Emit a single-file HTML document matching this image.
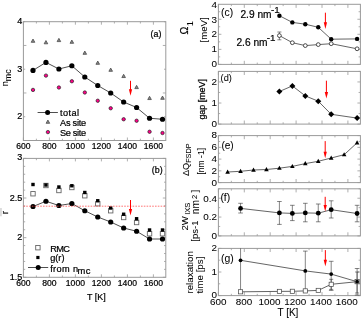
<!DOCTYPE html>
<html><head><meta charset="utf-8"><style>
html,body{margin:0;padding:0;background:#fff;width:362px;height:320px;overflow:hidden;}
svg{display:block;will-change:transform;}
text{font-family:"Liberation Sans",sans-serif;fill:#000;stroke:#000;stroke-width:0.22px;}
.rc text{stroke-width:0.06px;}
</style></head><body>
<svg width="362" height="320" viewBox="0 0 362 320">
<rect x="23.40" y="21.70" width="142.40" height="118.80" fill="none" stroke="#9a9a9a" stroke-width="1"/>
<line x1="23.40" y1="140.50" x2="23.40" y2="137.50" stroke="#9a9a9a" stroke-width="0.8" />
<line x1="23.40" y1="21.70" x2="23.40" y2="24.70" stroke="#9a9a9a" stroke-width="0.8" />
<line x1="36.40" y1="140.50" x2="36.40" y2="138.70" stroke="#9a9a9a" stroke-width="0.8" />
<line x1="36.40" y1="21.70" x2="36.40" y2="23.50" stroke="#9a9a9a" stroke-width="0.8" />
<line x1="49.40" y1="140.50" x2="49.40" y2="137.50" stroke="#9a9a9a" stroke-width="0.8" />
<line x1="49.40" y1="21.70" x2="49.40" y2="24.70" stroke="#9a9a9a" stroke-width="0.8" />
<line x1="62.40" y1="140.50" x2="62.40" y2="138.70" stroke="#9a9a9a" stroke-width="0.8" />
<line x1="62.40" y1="21.70" x2="62.40" y2="23.50" stroke="#9a9a9a" stroke-width="0.8" />
<line x1="75.40" y1="140.50" x2="75.40" y2="137.50" stroke="#9a9a9a" stroke-width="0.8" />
<line x1="75.40" y1="21.70" x2="75.40" y2="24.70" stroke="#9a9a9a" stroke-width="0.8" />
<line x1="88.40" y1="140.50" x2="88.40" y2="138.70" stroke="#9a9a9a" stroke-width="0.8" />
<line x1="88.40" y1="21.70" x2="88.40" y2="23.50" stroke="#9a9a9a" stroke-width="0.8" />
<line x1="101.40" y1="140.50" x2="101.40" y2="137.50" stroke="#9a9a9a" stroke-width="0.8" />
<line x1="101.40" y1="21.70" x2="101.40" y2="24.70" stroke="#9a9a9a" stroke-width="0.8" />
<line x1="114.40" y1="140.50" x2="114.40" y2="138.70" stroke="#9a9a9a" stroke-width="0.8" />
<line x1="114.40" y1="21.70" x2="114.40" y2="23.50" stroke="#9a9a9a" stroke-width="0.8" />
<line x1="127.40" y1="140.50" x2="127.40" y2="137.50" stroke="#9a9a9a" stroke-width="0.8" />
<line x1="127.40" y1="21.70" x2="127.40" y2="24.70" stroke="#9a9a9a" stroke-width="0.8" />
<line x1="140.40" y1="140.50" x2="140.40" y2="138.70" stroke="#9a9a9a" stroke-width="0.8" />
<line x1="140.40" y1="21.70" x2="140.40" y2="23.50" stroke="#9a9a9a" stroke-width="0.8" />
<line x1="153.40" y1="140.50" x2="153.40" y2="137.50" stroke="#9a9a9a" stroke-width="0.8" />
<line x1="153.40" y1="21.70" x2="153.40" y2="24.70" stroke="#9a9a9a" stroke-width="0.8" />
<line x1="23.40" y1="140.50" x2="26.40" y2="140.50" stroke="#9a9a9a" stroke-width="0.8" />
<line x1="165.80" y1="140.50" x2="162.80" y2="140.50" stroke="#9a9a9a" stroke-width="0.8" />
<line x1="23.40" y1="116.74" x2="25.20" y2="116.74" stroke="#9a9a9a" stroke-width="0.8" />
<line x1="165.80" y1="116.74" x2="164.00" y2="116.74" stroke="#9a9a9a" stroke-width="0.8" />
<line x1="23.40" y1="92.98" x2="26.40" y2="92.98" stroke="#9a9a9a" stroke-width="0.8" />
<line x1="165.80" y1="92.98" x2="162.80" y2="92.98" stroke="#9a9a9a" stroke-width="0.8" />
<line x1="23.40" y1="69.22" x2="25.20" y2="69.22" stroke="#9a9a9a" stroke-width="0.8" />
<line x1="165.80" y1="69.22" x2="164.00" y2="69.22" stroke="#9a9a9a" stroke-width="0.8" />
<line x1="23.40" y1="45.46" x2="26.40" y2="45.46" stroke="#9a9a9a" stroke-width="0.8" />
<line x1="165.80" y1="45.46" x2="162.80" y2="45.46" stroke="#9a9a9a" stroke-width="0.8" />
<line x1="23.40" y1="21.70" x2="25.20" y2="21.70" stroke="#9a9a9a" stroke-width="0.8" />
<line x1="165.80" y1="21.70" x2="164.00" y2="21.70" stroke="#9a9a9a" stroke-width="0.8" />
<text x="22.30" y="24.27" font-size="9.0" text-anchor="end" >4</text>
<text x="22.30" y="72.42" font-size="9.0" text-anchor="end" >3</text>
<text x="22.30" y="119.22" font-size="9.0" text-anchor="end" >2</text>
<text x="23.40" y="149.40" font-size="8.6" text-anchor="middle" >600</text>
<text x="49.40" y="149.40" font-size="8.6" text-anchor="middle" >800</text>
<text x="75.40" y="149.40" font-size="8.6" text-anchor="middle" >1000</text>
<text x="101.40" y="149.40" font-size="8.6" text-anchor="middle" >1200</text>
<text x="127.40" y="149.40" font-size="8.6" text-anchor="middle" >1400</text>
<text x="153.40" y="149.40" font-size="8.6" text-anchor="middle" >1600</text>
<text x="150.60" y="36.90" font-size="8.9" text-anchor="start" >(a)</text>
<polyline points="33.00,70.40 45.95,62.40 58.90,69.00 71.85,65.75 84.80,77.00 97.75,85.50 110.70,93.00 123.65,102.00 136.60,107.50 149.55,118.25 162.50,119.25" fill="none" stroke="#222" stroke-width="0.8"/>
<circle cx="33.00" cy="70.40" r="2.6" fill="#000" stroke="none" stroke-width="0.6"/>
<circle cx="45.95" cy="62.40" r="2.6" fill="#000" stroke="none" stroke-width="0.6"/>
<circle cx="58.90" cy="69.00" r="2.6" fill="#000" stroke="none" stroke-width="0.6"/>
<circle cx="71.85" cy="65.75" r="2.6" fill="#000" stroke="none" stroke-width="0.6"/>
<circle cx="84.80" cy="77.00" r="2.6" fill="#000" stroke="none" stroke-width="0.6"/>
<circle cx="97.75" cy="85.50" r="2.6" fill="#000" stroke="none" stroke-width="0.6"/>
<circle cx="110.70" cy="93.00" r="2.6" fill="#000" stroke="none" stroke-width="0.6"/>
<circle cx="123.65" cy="102.00" r="2.6" fill="#000" stroke="none" stroke-width="0.6"/>
<circle cx="136.60" cy="107.50" r="2.6" fill="#000" stroke="none" stroke-width="0.6"/>
<circle cx="149.55" cy="118.25" r="2.6" fill="#000" stroke="none" stroke-width="0.6"/>
<circle cx="162.50" cy="119.25" r="2.6" fill="#000" stroke="none" stroke-width="0.6"/>
<polygon points="33.00,39.06 34.80,42.30 31.20,42.30" fill="#8a8a8a" stroke="#4a4a4a" stroke-width="0.8"/>
<polygon points="45.95,40.56 47.75,43.80 44.15,43.80" fill="#8a8a8a" stroke="#4a4a4a" stroke-width="0.8"/>
<polygon points="58.90,38.36 60.70,41.60 57.10,41.60" fill="#8a8a8a" stroke="#4a4a4a" stroke-width="0.8"/>
<polygon points="71.85,40.06 73.65,43.30 70.05,43.30" fill="#8a8a8a" stroke="#4a4a4a" stroke-width="0.8"/>
<polygon points="84.80,51.06 86.60,54.30 83.00,54.30" fill="#8a8a8a" stroke="#4a4a4a" stroke-width="0.8"/>
<polygon points="97.75,61.06 99.55,64.30 95.95,64.30" fill="#8a8a8a" stroke="#4a4a4a" stroke-width="0.8"/>
<polygon points="110.70,68.06 112.50,71.30 108.90,71.30" fill="#8a8a8a" stroke="#4a4a4a" stroke-width="0.8"/>
<polygon points="123.65,74.31 125.45,77.55 121.85,77.55" fill="#8a8a8a" stroke="#4a4a4a" stroke-width="0.8"/>
<polygon points="136.60,85.36 138.40,88.60 134.80,88.60" fill="#8a8a8a" stroke="#4a4a4a" stroke-width="0.8"/>
<polygon points="149.55,96.31 151.35,99.55 147.75,99.55" fill="#8a8a8a" stroke="#4a4a4a" stroke-width="0.8"/>
<polygon points="162.50,96.06 164.30,99.30 160.70,99.30" fill="#8a8a8a" stroke="#4a4a4a" stroke-width="0.8"/>
<circle cx="33.00" cy="89.90" r="1.7" fill="#ff0088" stroke="#222" stroke-width="0.7"/>
<circle cx="45.95" cy="75.60" r="1.7" fill="#ff0088" stroke="#222" stroke-width="0.7"/>
<circle cx="58.90" cy="87.50" r="1.7" fill="#ff0088" stroke="#222" stroke-width="0.7"/>
<circle cx="71.85" cy="81.25" r="1.7" fill="#ff0088" stroke="#222" stroke-width="0.7"/>
<circle cx="84.80" cy="92.50" r="1.7" fill="#ff0088" stroke="#222" stroke-width="0.7"/>
<circle cx="97.75" cy="100.75" r="1.7" fill="#ff0088" stroke="#222" stroke-width="0.7"/>
<circle cx="110.70" cy="108.25" r="1.7" fill="#ff0088" stroke="#222" stroke-width="0.7"/>
<circle cx="123.65" cy="119.25" r="1.7" fill="#ff0088" stroke="#222" stroke-width="0.7"/>
<circle cx="136.60" cy="120.75" r="1.7" fill="#ff0088" stroke="#222" stroke-width="0.7"/>
<circle cx="149.55" cy="131.75" r="1.7" fill="#ff0088" stroke="#222" stroke-width="0.7"/>
<circle cx="162.50" cy="133.00" r="1.7" fill="#ff0088" stroke="#222" stroke-width="0.7"/>
<line x1="130.50" y1="80.80" x2="130.50" y2="90.80" stroke="#ff0000" stroke-width="1" />
<polygon points="128.85,89.20 132.15,89.20 130.50,95.80" fill="#ff0000"/>
<line x1="37.60" y1="112.50" x2="57.90" y2="112.50" stroke="#222" stroke-width="0.8" />
<circle cx="47.60" cy="112.40" r="2.5" fill="#000" stroke="none" stroke-width="0.6"/>
<polygon points="47.90,120.06 49.70,123.30 46.10,123.30" fill="#8a8a8a" stroke="#4a4a4a" stroke-width="0.8"/>
<circle cx="47.90" cy="132.10" r="1.7" fill="#ff0088" stroke="#222" stroke-width="0.7"/>
<text x="60.00" y="115.60" font-size="9.2" text-anchor="start" textLength="19.0">total</text>
<text x="60.00" y="125.90" font-size="9.2" text-anchor="start" textLength="26.2">As site</text>
<text x="60.00" y="135.60" font-size="9.2" text-anchor="start" textLength="26.2">Se site</text>
<text transform="translate(7.80,86.30) rotate(-90)" font-size="9.2" style="stroke-width:0.05px">n<tspan font-size="9" dy="3.1">mc</tspan></text>
<rect x="23.40" y="158.40" width="142.40" height="118.90" fill="none" stroke="#9a9a9a" stroke-width="1"/>
<line x1="23.40" y1="277.30" x2="23.40" y2="274.30" stroke="#9a9a9a" stroke-width="0.8" />
<line x1="23.40" y1="158.40" x2="23.40" y2="161.40" stroke="#9a9a9a" stroke-width="0.8" />
<line x1="36.40" y1="277.30" x2="36.40" y2="275.50" stroke="#9a9a9a" stroke-width="0.8" />
<line x1="36.40" y1="158.40" x2="36.40" y2="160.20" stroke="#9a9a9a" stroke-width="0.8" />
<line x1="49.40" y1="277.30" x2="49.40" y2="274.30" stroke="#9a9a9a" stroke-width="0.8" />
<line x1="49.40" y1="158.40" x2="49.40" y2="161.40" stroke="#9a9a9a" stroke-width="0.8" />
<line x1="62.40" y1="277.30" x2="62.40" y2="275.50" stroke="#9a9a9a" stroke-width="0.8" />
<line x1="62.40" y1="158.40" x2="62.40" y2="160.20" stroke="#9a9a9a" stroke-width="0.8" />
<line x1="75.40" y1="277.30" x2="75.40" y2="274.30" stroke="#9a9a9a" stroke-width="0.8" />
<line x1="75.40" y1="158.40" x2="75.40" y2="161.40" stroke="#9a9a9a" stroke-width="0.8" />
<line x1="88.40" y1="277.30" x2="88.40" y2="275.50" stroke="#9a9a9a" stroke-width="0.8" />
<line x1="88.40" y1="158.40" x2="88.40" y2="160.20" stroke="#9a9a9a" stroke-width="0.8" />
<line x1="101.40" y1="277.30" x2="101.40" y2="274.30" stroke="#9a9a9a" stroke-width="0.8" />
<line x1="101.40" y1="158.40" x2="101.40" y2="161.40" stroke="#9a9a9a" stroke-width="0.8" />
<line x1="114.40" y1="277.30" x2="114.40" y2="275.50" stroke="#9a9a9a" stroke-width="0.8" />
<line x1="114.40" y1="158.40" x2="114.40" y2="160.20" stroke="#9a9a9a" stroke-width="0.8" />
<line x1="127.40" y1="277.30" x2="127.40" y2="274.30" stroke="#9a9a9a" stroke-width="0.8" />
<line x1="127.40" y1="158.40" x2="127.40" y2="161.40" stroke="#9a9a9a" stroke-width="0.8" />
<line x1="140.40" y1="277.30" x2="140.40" y2="275.50" stroke="#9a9a9a" stroke-width="0.8" />
<line x1="140.40" y1="158.40" x2="140.40" y2="160.20" stroke="#9a9a9a" stroke-width="0.8" />
<line x1="153.40" y1="277.30" x2="153.40" y2="274.30" stroke="#9a9a9a" stroke-width="0.8" />
<line x1="153.40" y1="158.40" x2="153.40" y2="161.40" stroke="#9a9a9a" stroke-width="0.8" />
<line x1="23.40" y1="277.30" x2="26.40" y2="277.30" stroke="#9a9a9a" stroke-width="0.8" />
<line x1="165.80" y1="277.30" x2="162.80" y2="277.30" stroke="#9a9a9a" stroke-width="0.8" />
<line x1="23.40" y1="269.37" x2="25.20" y2="269.37" stroke="#9a9a9a" stroke-width="0.8" />
<line x1="165.80" y1="269.37" x2="164.00" y2="269.37" stroke="#9a9a9a" stroke-width="0.8" />
<line x1="23.40" y1="261.45" x2="25.20" y2="261.45" stroke="#9a9a9a" stroke-width="0.8" />
<line x1="165.80" y1="261.45" x2="164.00" y2="261.45" stroke="#9a9a9a" stroke-width="0.8" />
<line x1="23.40" y1="253.52" x2="25.20" y2="253.52" stroke="#9a9a9a" stroke-width="0.8" />
<line x1="165.80" y1="253.52" x2="164.00" y2="253.52" stroke="#9a9a9a" stroke-width="0.8" />
<line x1="23.40" y1="245.59" x2="25.20" y2="245.59" stroke="#9a9a9a" stroke-width="0.8" />
<line x1="165.80" y1="245.59" x2="164.00" y2="245.59" stroke="#9a9a9a" stroke-width="0.8" />
<line x1="23.40" y1="237.67" x2="26.40" y2="237.67" stroke="#9a9a9a" stroke-width="0.8" />
<line x1="165.80" y1="237.67" x2="162.80" y2="237.67" stroke="#9a9a9a" stroke-width="0.8" />
<line x1="23.40" y1="229.74" x2="25.20" y2="229.74" stroke="#9a9a9a" stroke-width="0.8" />
<line x1="165.80" y1="229.74" x2="164.00" y2="229.74" stroke="#9a9a9a" stroke-width="0.8" />
<line x1="23.40" y1="221.81" x2="25.20" y2="221.81" stroke="#9a9a9a" stroke-width="0.8" />
<line x1="165.80" y1="221.81" x2="164.00" y2="221.81" stroke="#9a9a9a" stroke-width="0.8" />
<line x1="23.40" y1="213.89" x2="25.20" y2="213.89" stroke="#9a9a9a" stroke-width="0.8" />
<line x1="165.80" y1="213.89" x2="164.00" y2="213.89" stroke="#9a9a9a" stroke-width="0.8" />
<line x1="23.40" y1="205.96" x2="25.20" y2="205.96" stroke="#9a9a9a" stroke-width="0.8" />
<line x1="165.80" y1="205.96" x2="164.00" y2="205.96" stroke="#9a9a9a" stroke-width="0.8" />
<line x1="23.40" y1="198.03" x2="26.40" y2="198.03" stroke="#9a9a9a" stroke-width="0.8" />
<line x1="165.80" y1="198.03" x2="162.80" y2="198.03" stroke="#9a9a9a" stroke-width="0.8" />
<line x1="23.40" y1="190.11" x2="25.20" y2="190.11" stroke="#9a9a9a" stroke-width="0.8" />
<line x1="165.80" y1="190.11" x2="164.00" y2="190.11" stroke="#9a9a9a" stroke-width="0.8" />
<line x1="23.40" y1="182.18" x2="25.20" y2="182.18" stroke="#9a9a9a" stroke-width="0.8" />
<line x1="165.80" y1="182.18" x2="164.00" y2="182.18" stroke="#9a9a9a" stroke-width="0.8" />
<line x1="23.40" y1="174.25" x2="25.20" y2="174.25" stroke="#9a9a9a" stroke-width="0.8" />
<line x1="165.80" y1="174.25" x2="164.00" y2="174.25" stroke="#9a9a9a" stroke-width="0.8" />
<line x1="23.40" y1="166.33" x2="25.20" y2="166.33" stroke="#9a9a9a" stroke-width="0.8" />
<line x1="165.80" y1="166.33" x2="164.00" y2="166.33" stroke="#9a9a9a" stroke-width="0.8" />
<line x1="23.40" y1="158.40" x2="26.40" y2="158.40" stroke="#9a9a9a" stroke-width="0.8" />
<line x1="165.80" y1="158.40" x2="162.80" y2="158.40" stroke="#9a9a9a" stroke-width="0.8" />
<text x="22.30" y="160.42" font-size="9.0" text-anchor="end" >3</text>
<text x="22.30" y="200.72" font-size="9.0" text-anchor="end" >2.5</text>
<text x="22.30" y="240.12" font-size="9.0" text-anchor="end" >2</text>
<text x="22.30" y="280.12" font-size="9.0" text-anchor="end" >1.5</text>
<text x="23.40" y="286.10" font-size="8.6" text-anchor="middle" >600</text>
<text x="49.40" y="286.10" font-size="8.6" text-anchor="middle" >800</text>
<text x="75.40" y="286.10" font-size="8.6" text-anchor="middle" >1000</text>
<text x="101.40" y="286.10" font-size="8.6" text-anchor="middle" >1200</text>
<text x="127.40" y="286.10" font-size="8.6" text-anchor="middle" >1400</text>
<text x="153.40" y="286.10" font-size="8.6" text-anchor="middle" >1600</text>
<text x="151.80" y="172.90" font-size="8.9" text-anchor="start" >(b)</text>
<polyline points="33.00,206.50 45.95,201.25 58.90,205.50 71.85,203.50 84.80,210.75 97.75,217.00 110.70,222.00 123.65,228.00 136.60,231.25 149.55,239.00 162.50,239.00" fill="none" stroke="#222" stroke-width="0.8"/>
<rect x="30.80" y="191.55" width="4.4" height="4.4" fill="#fff" stroke="#666" stroke-width="0.9"/>
<rect x="43.75" y="183.30" width="4.4" height="4.4" fill="#fff" stroke="#666" stroke-width="0.9"/>
<rect x="56.70" y="188.30" width="4.4" height="4.4" fill="#fff" stroke="#666" stroke-width="0.9"/>
<rect x="69.65" y="185.30" width="4.4" height="4.4" fill="#fff" stroke="#666" stroke-width="0.9"/>
<rect x="82.60" y="193.55" width="4.4" height="4.4" fill="#fff" stroke="#666" stroke-width="0.9"/>
<rect x="95.55" y="201.55" width="4.4" height="4.4" fill="#fff" stroke="#666" stroke-width="0.9"/>
<rect x="108.50" y="208.55" width="4.4" height="4.4" fill="#fff" stroke="#666" stroke-width="0.9"/>
<rect x="121.45" y="215.30" width="4.4" height="4.4" fill="#fff" stroke="#666" stroke-width="0.9"/>
<rect x="134.40" y="220.30" width="4.4" height="4.4" fill="#fff" stroke="#666" stroke-width="0.9"/>
<rect x="147.35" y="231.55" width="4.4" height="4.4" fill="#fff" stroke="#666" stroke-width="0.9"/>
<rect x="160.30" y="231.55" width="4.4" height="4.4" fill="#fff" stroke="#666" stroke-width="0.9"/>
<rect x="31.30" y="182.80" width="3.4" height="3.4" fill="#000" stroke="none" stroke-width="0.7"/>
<rect x="44.25" y="183.30" width="3.4" height="3.4" fill="#000" stroke="none" stroke-width="0.7"/>
<rect x="57.20" y="185.30" width="3.4" height="3.4" fill="#000" stroke="none" stroke-width="0.7"/>
<rect x="70.15" y="184.05" width="3.4" height="3.4" fill="#000" stroke="none" stroke-width="0.7"/>
<rect x="83.10" y="190.80" width="3.4" height="3.4" fill="#000" stroke="none" stroke-width="0.7"/>
<rect x="96.05" y="199.05" width="3.4" height="3.4" fill="#000" stroke="none" stroke-width="0.7"/>
<rect x="109.00" y="206.30" width="3.4" height="3.4" fill="#000" stroke="none" stroke-width="0.7"/>
<rect x="121.95" y="212.55" width="3.4" height="3.4" fill="#000" stroke="none" stroke-width="0.7"/>
<rect x="134.90" y="217.05" width="3.4" height="3.4" fill="#000" stroke="none" stroke-width="0.7"/>
<rect x="147.85" y="228.30" width="3.4" height="3.4" fill="#000" stroke="none" stroke-width="0.7"/>
<rect x="160.80" y="228.30" width="3.4" height="3.4" fill="#000" stroke="none" stroke-width="0.7"/>
<circle cx="33.00" cy="206.50" r="2.6" fill="#000" stroke="none" stroke-width="0.6"/>
<circle cx="45.95" cy="201.25" r="2.6" fill="#000" stroke="none" stroke-width="0.6"/>
<circle cx="58.90" cy="205.50" r="2.6" fill="#000" stroke="none" stroke-width="0.6"/>
<circle cx="71.85" cy="203.50" r="2.6" fill="#000" stroke="none" stroke-width="0.6"/>
<circle cx="84.80" cy="210.75" r="2.6" fill="#000" stroke="none" stroke-width="0.6"/>
<circle cx="97.75" cy="217.00" r="2.6" fill="#000" stroke="none" stroke-width="0.6"/>
<circle cx="110.70" cy="222.00" r="2.6" fill="#000" stroke="none" stroke-width="0.6"/>
<circle cx="123.65" cy="228.00" r="2.6" fill="#000" stroke="none" stroke-width="0.6"/>
<circle cx="136.60" cy="231.25" r="2.6" fill="#000" stroke="none" stroke-width="0.6"/>
<circle cx="149.55" cy="239.00" r="2.6" fill="#000" stroke="none" stroke-width="0.6"/>
<circle cx="162.50" cy="239.00" r="2.6" fill="#000" stroke="none" stroke-width="0.6"/>
<line x1="23.40" y1="206.20" x2="165.80" y2="206.20" stroke="#ff4848" stroke-width="0.75" stroke-dasharray="1.6,1.2"/>
<line x1="130.50" y1="200.00" x2="130.50" y2="210.50" stroke="#ff0000" stroke-width="1" />
<polygon points="128.85,208.90 132.15,208.90 130.50,215.50" fill="#ff0000"/>
<rect x="35.70" y="245.50" width="4.4" height="4.4" fill="#fff" stroke="#666" stroke-width="0.9"/>
<rect x="36.30" y="255.90" width="3.2" height="3.2" fill="#000" stroke="none" stroke-width="0.7"/>
<line x1="28.00" y1="267.50" x2="48.20" y2="267.50" stroke="#222" stroke-width="0.8" />
<circle cx="38.20" cy="267.40" r="2.5" fill="#000" stroke="none" stroke-width="0.6"/>
<text x="50.20" y="251.60" font-size="9.2" text-anchor="start" textLength="19.8">RMC</text>
<text x="50.20" y="261.20" font-size="9.2" text-anchor="start" >g(r)</text>
<text x="50.20" y="271.60" font-size="9.2" text-anchor="start" textLength="27.8">from n</text>
<text x="77.50" y="274.20" font-size="9.4" text-anchor="start" textLength="13.0">mc</text>
<rect x="0" y="208" width="1.9" height="8.3" fill="#dcdcdc"/>
<text transform="translate(8.10,214.20) rotate(-90)" font-size="9.6" >r</text>
<text x="96.40" y="300.00" font-size="8.9" text-anchor="middle" >T [K]</text>
<g class="rc">
<rect x="218.40" y="4.30" width="142.00" height="60.10" fill="none" stroke="#9a9a9a" stroke-width="1"/>
<line x1="218.40" y1="64.40" x2="218.40" y2="60.80" stroke="#9a9a9a" stroke-width="0.8" />
<line x1="218.40" y1="4.30" x2="218.40" y2="7.90" stroke="#9a9a9a" stroke-width="0.8" />
<line x1="231.35" y1="64.40" x2="231.35" y2="62.60" stroke="#9a9a9a" stroke-width="0.8" />
<line x1="231.35" y1="4.30" x2="231.35" y2="6.10" stroke="#9a9a9a" stroke-width="0.8" />
<line x1="244.30" y1="64.40" x2="244.30" y2="60.80" stroke="#9a9a9a" stroke-width="0.8" />
<line x1="244.30" y1="4.30" x2="244.30" y2="7.90" stroke="#9a9a9a" stroke-width="0.8" />
<line x1="257.25" y1="64.40" x2="257.25" y2="62.60" stroke="#9a9a9a" stroke-width="0.8" />
<line x1="257.25" y1="4.30" x2="257.25" y2="6.10" stroke="#9a9a9a" stroke-width="0.8" />
<line x1="270.20" y1="64.40" x2="270.20" y2="60.80" stroke="#9a9a9a" stroke-width="0.8" />
<line x1="270.20" y1="4.30" x2="270.20" y2="7.90" stroke="#9a9a9a" stroke-width="0.8" />
<line x1="283.15" y1="64.40" x2="283.15" y2="62.60" stroke="#9a9a9a" stroke-width="0.8" />
<line x1="283.15" y1="4.30" x2="283.15" y2="6.10" stroke="#9a9a9a" stroke-width="0.8" />
<line x1="296.10" y1="64.40" x2="296.10" y2="60.80" stroke="#9a9a9a" stroke-width="0.8" />
<line x1="296.10" y1="4.30" x2="296.10" y2="7.90" stroke="#9a9a9a" stroke-width="0.8" />
<line x1="309.05" y1="64.40" x2="309.05" y2="62.60" stroke="#9a9a9a" stroke-width="0.8" />
<line x1="309.05" y1="4.30" x2="309.05" y2="6.10" stroke="#9a9a9a" stroke-width="0.8" />
<line x1="322.00" y1="64.40" x2="322.00" y2="60.80" stroke="#9a9a9a" stroke-width="0.8" />
<line x1="322.00" y1="4.30" x2="322.00" y2="7.90" stroke="#9a9a9a" stroke-width="0.8" />
<line x1="334.95" y1="64.40" x2="334.95" y2="62.60" stroke="#9a9a9a" stroke-width="0.8" />
<line x1="334.95" y1="4.30" x2="334.95" y2="6.10" stroke="#9a9a9a" stroke-width="0.8" />
<line x1="347.90" y1="64.40" x2="347.90" y2="60.80" stroke="#9a9a9a" stroke-width="0.8" />
<line x1="347.90" y1="4.30" x2="347.90" y2="7.90" stroke="#9a9a9a" stroke-width="0.8" />
<line x1="218.40" y1="64.40" x2="221.40" y2="64.40" stroke="#9a9a9a" stroke-width="0.8" />
<line x1="360.40" y1="64.40" x2="357.40" y2="64.40" stroke="#9a9a9a" stroke-width="0.8" />
<line x1="218.40" y1="56.88" x2="220.20" y2="56.88" stroke="#9a9a9a" stroke-width="0.8" />
<line x1="360.40" y1="56.88" x2="358.60" y2="56.88" stroke="#9a9a9a" stroke-width="0.8" />
<line x1="218.40" y1="49.35" x2="221.40" y2="49.35" stroke="#9a9a9a" stroke-width="0.8" />
<line x1="360.40" y1="49.35" x2="357.40" y2="49.35" stroke="#9a9a9a" stroke-width="0.8" />
<line x1="218.40" y1="41.83" x2="220.20" y2="41.83" stroke="#9a9a9a" stroke-width="0.8" />
<line x1="360.40" y1="41.83" x2="358.60" y2="41.83" stroke="#9a9a9a" stroke-width="0.8" />
<line x1="218.40" y1="34.30" x2="221.40" y2="34.30" stroke="#9a9a9a" stroke-width="0.8" />
<line x1="360.40" y1="34.30" x2="357.40" y2="34.30" stroke="#9a9a9a" stroke-width="0.8" />
<line x1="218.40" y1="26.78" x2="220.20" y2="26.78" stroke="#9a9a9a" stroke-width="0.8" />
<line x1="360.40" y1="26.78" x2="358.60" y2="26.78" stroke="#9a9a9a" stroke-width="0.8" />
<line x1="218.40" y1="19.25" x2="221.40" y2="19.25" stroke="#9a9a9a" stroke-width="0.8" />
<line x1="360.40" y1="19.25" x2="357.40" y2="19.25" stroke="#9a9a9a" stroke-width="0.8" />
<line x1="218.40" y1="11.73" x2="220.20" y2="11.73" stroke="#9a9a9a" stroke-width="0.8" />
<line x1="360.40" y1="11.73" x2="358.60" y2="11.73" stroke="#9a9a9a" stroke-width="0.8" />
<text x="217.00" y="7.85" font-size="9.9" text-anchor="end" >4</text>
<text x="217.00" y="22.95" font-size="9.9" text-anchor="end" >3</text>
<text x="217.00" y="37.25" font-size="9.9" text-anchor="end" >2</text>
<text x="217.00" y="51.80" font-size="9.9" text-anchor="end" >1</text>
<text x="217.00" y="67.00" font-size="9.9" text-anchor="end" >0</text>
<text x="221.10" y="15.60" font-size="10.3" text-anchor="start" >(c)</text>
<polyline points="279.40,15.70 292.35,22.40 305.30,24.20 318.25,27.30 331.20,39.20 357.10,38.90" fill="none" stroke="#222" stroke-width="0.7"/>
<polyline points="279.40,35.60 292.35,42.70 305.30,45.60 318.25,44.60 331.20,43.70 357.10,48.80" fill="none" stroke="#222" stroke-width="0.7"/>
<line x1="279.40" y1="32.00" x2="279.40" y2="39.80" stroke="#333" stroke-width="0.6" />
<line x1="277.40" y1="32.00" x2="281.40" y2="32.00" stroke="#333" stroke-width="0.6" />
<line x1="277.40" y1="39.80" x2="281.40" y2="39.80" stroke="#333" stroke-width="0.6" />
<circle cx="279.40" cy="15.70" r="2.2" fill="#000" stroke="none" stroke-width="0.6"/>
<circle cx="292.35" cy="22.40" r="2.2" fill="#000" stroke="none" stroke-width="0.6"/>
<circle cx="305.30" cy="24.20" r="2.2" fill="#000" stroke="none" stroke-width="0.6"/>
<circle cx="318.25" cy="27.30" r="2.2" fill="#000" stroke="none" stroke-width="0.6"/>
<circle cx="331.20" cy="39.20" r="2.2" fill="#000" stroke="none" stroke-width="0.6"/>
<circle cx="357.10" cy="38.90" r="2.2" fill="#000" stroke="none" stroke-width="0.6"/>
<circle cx="279.40" cy="35.60" r="1.9" fill="#fff" stroke="#222" stroke-width="0.8"/>
<circle cx="292.35" cy="42.70" r="1.9" fill="#fff" stroke="#222" stroke-width="0.8"/>
<circle cx="305.30" cy="45.60" r="1.9" fill="#fff" stroke="#222" stroke-width="0.8"/>
<circle cx="318.25" cy="44.60" r="1.9" fill="#fff" stroke="#222" stroke-width="0.8"/>
<circle cx="331.20" cy="43.70" r="1.9" fill="#fff" stroke="#222" stroke-width="0.8"/>
<circle cx="357.10" cy="48.80" r="1.9" fill="#fff" stroke="#222" stroke-width="0.8"/>
<line x1="325.40" y1="12.70" x2="325.40" y2="23.90" stroke="#ff0000" stroke-width="1" />
<polygon points="323.75,22.30 327.05,22.30 325.40,28.90" fill="#ff0000"/>
<text x="240.4" y="18.4" font-size="10.2" style="stroke-width:0.2px">2.9 nm<tspan font-size="9.8" dy="-5.0" dx="-0.6">-1</tspan></text>
<text x="236.4" y="45.9" font-size="10.2" style="stroke-width:0.2px">2.6 nm<tspan font-size="9.8" dy="-5.0" dx="-0.8">-1</tspan></text>
<text transform="translate(188.30,34.40) rotate(-90)" font-size="10.5" style="stroke-width:0.2px">&#937;</text>
<text transform="translate(193.20,26.30) rotate(-90)" font-size="9.4" >1</text>
<text transform="translate(207.30,42.40) rotate(-90)" font-size="9.6" >[meV]</text>
<rect x="218.40" y="71.40" width="142.00" height="52.70" fill="none" stroke="#9a9a9a" stroke-width="1"/>
<line x1="218.40" y1="124.10" x2="218.40" y2="120.50" stroke="#9a9a9a" stroke-width="0.8" />
<line x1="218.40" y1="71.40" x2="218.40" y2="75.00" stroke="#9a9a9a" stroke-width="0.8" />
<line x1="231.35" y1="124.10" x2="231.35" y2="122.30" stroke="#9a9a9a" stroke-width="0.8" />
<line x1="231.35" y1="71.40" x2="231.35" y2="73.20" stroke="#9a9a9a" stroke-width="0.8" />
<line x1="244.30" y1="124.10" x2="244.30" y2="120.50" stroke="#9a9a9a" stroke-width="0.8" />
<line x1="244.30" y1="71.40" x2="244.30" y2="75.00" stroke="#9a9a9a" stroke-width="0.8" />
<line x1="257.25" y1="124.10" x2="257.25" y2="122.30" stroke="#9a9a9a" stroke-width="0.8" />
<line x1="257.25" y1="71.40" x2="257.25" y2="73.20" stroke="#9a9a9a" stroke-width="0.8" />
<line x1="270.20" y1="124.10" x2="270.20" y2="120.50" stroke="#9a9a9a" stroke-width="0.8" />
<line x1="270.20" y1="71.40" x2="270.20" y2="75.00" stroke="#9a9a9a" stroke-width="0.8" />
<line x1="283.15" y1="124.10" x2="283.15" y2="122.30" stroke="#9a9a9a" stroke-width="0.8" />
<line x1="283.15" y1="71.40" x2="283.15" y2="73.20" stroke="#9a9a9a" stroke-width="0.8" />
<line x1="296.10" y1="124.10" x2="296.10" y2="120.50" stroke="#9a9a9a" stroke-width="0.8" />
<line x1="296.10" y1="71.40" x2="296.10" y2="75.00" stroke="#9a9a9a" stroke-width="0.8" />
<line x1="309.05" y1="124.10" x2="309.05" y2="122.30" stroke="#9a9a9a" stroke-width="0.8" />
<line x1="309.05" y1="71.40" x2="309.05" y2="73.20" stroke="#9a9a9a" stroke-width="0.8" />
<line x1="322.00" y1="124.10" x2="322.00" y2="120.50" stroke="#9a9a9a" stroke-width="0.8" />
<line x1="322.00" y1="71.40" x2="322.00" y2="75.00" stroke="#9a9a9a" stroke-width="0.8" />
<line x1="334.95" y1="124.10" x2="334.95" y2="122.30" stroke="#9a9a9a" stroke-width="0.8" />
<line x1="334.95" y1="71.40" x2="334.95" y2="73.20" stroke="#9a9a9a" stroke-width="0.8" />
<line x1="347.90" y1="124.10" x2="347.90" y2="120.50" stroke="#9a9a9a" stroke-width="0.8" />
<line x1="347.90" y1="71.40" x2="347.90" y2="75.00" stroke="#9a9a9a" stroke-width="0.8" />
<line x1="218.40" y1="124.10" x2="221.40" y2="124.10" stroke="#9a9a9a" stroke-width="0.8" />
<line x1="360.40" y1="124.10" x2="357.40" y2="124.10" stroke="#9a9a9a" stroke-width="0.8" />
<line x1="218.40" y1="113.56" x2="220.20" y2="113.56" stroke="#9a9a9a" stroke-width="0.8" />
<line x1="360.40" y1="113.56" x2="358.60" y2="113.56" stroke="#9a9a9a" stroke-width="0.8" />
<line x1="218.40" y1="103.02" x2="221.40" y2="103.02" stroke="#9a9a9a" stroke-width="0.8" />
<line x1="360.40" y1="103.02" x2="357.40" y2="103.02" stroke="#9a9a9a" stroke-width="0.8" />
<line x1="218.40" y1="92.48" x2="220.20" y2="92.48" stroke="#9a9a9a" stroke-width="0.8" />
<line x1="360.40" y1="92.48" x2="358.60" y2="92.48" stroke="#9a9a9a" stroke-width="0.8" />
<line x1="218.40" y1="81.94" x2="221.40" y2="81.94" stroke="#9a9a9a" stroke-width="0.8" />
<line x1="360.40" y1="81.94" x2="357.40" y2="81.94" stroke="#9a9a9a" stroke-width="0.8" />
<line x1="218.40" y1="71.40" x2="220.20" y2="71.40" stroke="#9a9a9a" stroke-width="0.8" />
<line x1="360.40" y1="71.40" x2="358.60" y2="71.40" stroke="#9a9a9a" stroke-width="0.8" />
<text x="217.00" y="84.65" font-size="9.9" text-anchor="end" >2</text>
<text x="217.00" y="106.15" font-size="9.9" text-anchor="end" >1</text>
<text x="217.00" y="127.35" font-size="9.9" text-anchor="end" >0</text>
<text x="220.60" y="81.40" font-size="9.2" text-anchor="start" >(d)</text>
<polyline points="279.40,91.50 292.35,85.90 305.30,95.90 318.25,101.20 331.20,114.30 357.10,118.10" fill="none" stroke="#222" stroke-width="0.7"/>
<polygon points="279.40,88.50 282.40,91.50 279.40,94.50 276.40,91.50" fill="#000"/>
<polygon points="292.35,82.90 295.35,85.90 292.35,88.90 289.35,85.90" fill="#000"/>
<polygon points="305.30,92.90 308.30,95.90 305.30,98.90 302.30,95.90" fill="#000"/>
<polygon points="318.25,98.20 321.25,101.20 318.25,104.20 315.25,101.20" fill="#000"/>
<polygon points="331.20,111.30 334.20,114.30 331.20,117.30 328.20,114.30" fill="#000"/>
<polygon points="357.10,115.10 360.10,118.10 357.10,121.10 354.10,118.10" fill="#000"/>
<line x1="326.40" y1="80.70" x2="326.40" y2="93.60" stroke="#ff0000" stroke-width="1" />
<polygon points="324.75,92.00 328.05,92.00 326.40,98.60" fill="#ff0000"/>
<text transform="translate(204.70,119.60) rotate(-90)" font-size="8.9" style="stroke-width:0.25px">gap [meV]</text>
<rect x="218.40" y="135.60" width="142.00" height="47.00" fill="none" stroke="#9a9a9a" stroke-width="1"/>
<line x1="218.40" y1="182.60" x2="218.40" y2="179.00" stroke="#9a9a9a" stroke-width="0.8" />
<line x1="218.40" y1="135.60" x2="218.40" y2="139.20" stroke="#9a9a9a" stroke-width="0.8" />
<line x1="231.35" y1="182.60" x2="231.35" y2="180.80" stroke="#9a9a9a" stroke-width="0.8" />
<line x1="231.35" y1="135.60" x2="231.35" y2="137.40" stroke="#9a9a9a" stroke-width="0.8" />
<line x1="244.30" y1="182.60" x2="244.30" y2="179.00" stroke="#9a9a9a" stroke-width="0.8" />
<line x1="244.30" y1="135.60" x2="244.30" y2="139.20" stroke="#9a9a9a" stroke-width="0.8" />
<line x1="257.25" y1="182.60" x2="257.25" y2="180.80" stroke="#9a9a9a" stroke-width="0.8" />
<line x1="257.25" y1="135.60" x2="257.25" y2="137.40" stroke="#9a9a9a" stroke-width="0.8" />
<line x1="270.20" y1="182.60" x2="270.20" y2="179.00" stroke="#9a9a9a" stroke-width="0.8" />
<line x1="270.20" y1="135.60" x2="270.20" y2="139.20" stroke="#9a9a9a" stroke-width="0.8" />
<line x1="283.15" y1="182.60" x2="283.15" y2="180.80" stroke="#9a9a9a" stroke-width="0.8" />
<line x1="283.15" y1="135.60" x2="283.15" y2="137.40" stroke="#9a9a9a" stroke-width="0.8" />
<line x1="296.10" y1="182.60" x2="296.10" y2="179.00" stroke="#9a9a9a" stroke-width="0.8" />
<line x1="296.10" y1="135.60" x2="296.10" y2="139.20" stroke="#9a9a9a" stroke-width="0.8" />
<line x1="309.05" y1="182.60" x2="309.05" y2="180.80" stroke="#9a9a9a" stroke-width="0.8" />
<line x1="309.05" y1="135.60" x2="309.05" y2="137.40" stroke="#9a9a9a" stroke-width="0.8" />
<line x1="322.00" y1="182.60" x2="322.00" y2="179.00" stroke="#9a9a9a" stroke-width="0.8" />
<line x1="322.00" y1="135.60" x2="322.00" y2="139.20" stroke="#9a9a9a" stroke-width="0.8" />
<line x1="334.95" y1="182.60" x2="334.95" y2="180.80" stroke="#9a9a9a" stroke-width="0.8" />
<line x1="334.95" y1="135.60" x2="334.95" y2="137.40" stroke="#9a9a9a" stroke-width="0.8" />
<line x1="347.90" y1="182.60" x2="347.90" y2="179.00" stroke="#9a9a9a" stroke-width="0.8" />
<line x1="347.90" y1="135.60" x2="347.90" y2="139.20" stroke="#9a9a9a" stroke-width="0.8" />
<line x1="218.40" y1="182.60" x2="221.40" y2="182.60" stroke="#9a9a9a" stroke-width="0.8" />
<line x1="360.40" y1="182.60" x2="357.40" y2="182.60" stroke="#9a9a9a" stroke-width="0.8" />
<line x1="218.40" y1="176.72" x2="220.20" y2="176.72" stroke="#9a9a9a" stroke-width="0.8" />
<line x1="360.40" y1="176.72" x2="358.60" y2="176.72" stroke="#9a9a9a" stroke-width="0.8" />
<line x1="218.40" y1="170.85" x2="221.40" y2="170.85" stroke="#9a9a9a" stroke-width="0.8" />
<line x1="360.40" y1="170.85" x2="357.40" y2="170.85" stroke="#9a9a9a" stroke-width="0.8" />
<line x1="218.40" y1="164.97" x2="220.20" y2="164.97" stroke="#9a9a9a" stroke-width="0.8" />
<line x1="360.40" y1="164.97" x2="358.60" y2="164.97" stroke="#9a9a9a" stroke-width="0.8" />
<line x1="218.40" y1="159.10" x2="221.40" y2="159.10" stroke="#9a9a9a" stroke-width="0.8" />
<line x1="360.40" y1="159.10" x2="357.40" y2="159.10" stroke="#9a9a9a" stroke-width="0.8" />
<line x1="218.40" y1="153.22" x2="220.20" y2="153.22" stroke="#9a9a9a" stroke-width="0.8" />
<line x1="360.40" y1="153.22" x2="358.60" y2="153.22" stroke="#9a9a9a" stroke-width="0.8" />
<line x1="218.40" y1="147.35" x2="221.40" y2="147.35" stroke="#9a9a9a" stroke-width="0.8" />
<line x1="360.40" y1="147.35" x2="357.40" y2="147.35" stroke="#9a9a9a" stroke-width="0.8" />
<line x1="218.40" y1="141.47" x2="220.20" y2="141.47" stroke="#9a9a9a" stroke-width="0.8" />
<line x1="360.40" y1="141.47" x2="358.60" y2="141.47" stroke="#9a9a9a" stroke-width="0.8" />
<line x1="218.40" y1="135.60" x2="221.40" y2="135.60" stroke="#9a9a9a" stroke-width="0.8" />
<line x1="360.40" y1="135.60" x2="357.40" y2="135.60" stroke="#9a9a9a" stroke-width="0.8" />
<text x="217.00" y="138.45" font-size="9.9" text-anchor="end" >8</text>
<text x="217.00" y="150.05" font-size="9.9" text-anchor="end" >6</text>
<text x="217.00" y="162.10" font-size="9.9" text-anchor="end" >4</text>
<text x="217.00" y="174.30" font-size="9.9" text-anchor="end" >2</text>
<text x="217.00" y="185.95" font-size="9.9" text-anchor="end" >0</text>
<text x="221.40" y="148.80" font-size="10.1" text-anchor="start" >(e)</text>
<polyline points="227.60,172.00 240.55,171.30 253.50,170.00 266.45,169.50 279.40,168.20 292.35,166.40 305.30,163.60 318.25,161.30 331.20,158.00 344.15,154.70 357.10,142.80" fill="none" stroke="#222" stroke-width="0.7"/>
<polygon points="227.60,169.52 229.90,173.66 225.30,173.66" fill="#000" stroke="none" stroke-width="0.7"/>
<polygon points="240.55,168.82 242.85,172.96 238.25,172.96" fill="#000" stroke="none" stroke-width="0.7"/>
<polygon points="253.50,167.52 255.80,171.66 251.20,171.66" fill="#000" stroke="none" stroke-width="0.7"/>
<polygon points="266.45,167.02 268.75,171.16 264.15,171.16" fill="#000" stroke="none" stroke-width="0.7"/>
<polygon points="279.40,165.72 281.70,169.86 277.10,169.86" fill="#000" stroke="none" stroke-width="0.7"/>
<polygon points="292.35,163.92 294.65,168.06 290.05,168.06" fill="#000" stroke="none" stroke-width="0.7"/>
<polygon points="305.30,161.12 307.60,165.26 303.00,165.26" fill="#000" stroke="none" stroke-width="0.7"/>
<polygon points="318.25,158.82 320.55,162.96 315.95,162.96" fill="#000" stroke="none" stroke-width="0.7"/>
<polygon points="331.20,155.52 333.50,159.66 328.90,159.66" fill="#000" stroke="none" stroke-width="0.7"/>
<polygon points="344.15,152.22 346.45,156.36 341.85,156.36" fill="#000" stroke="none" stroke-width="0.7"/>
<polygon points="357.10,140.32 359.40,144.46 354.80,144.46" fill="#000" stroke="none" stroke-width="0.7"/>
<line x1="325.20" y1="141.10" x2="325.20" y2="153.30" stroke="#ff0000" stroke-width="1" />
<polygon points="323.55,151.70 326.85,151.70 325.20,158.30" fill="#ff0000"/>
<text transform="translate(188.70,176.00) rotate(-90)" font-size="9.1" >&#916;Q<tspan font-size="7.3" dy="2.4">FSDP</tspan></text>
<text transform="translate(203.60,174.60) rotate(-90)" font-size="8.6" >[nm -1]</text>
<rect x="218.40" y="188.80" width="142.00" height="47.10" fill="none" stroke="#9a9a9a" stroke-width="1"/>
<line x1="218.40" y1="235.90" x2="218.40" y2="232.30" stroke="#9a9a9a" stroke-width="0.8" />
<line x1="218.40" y1="188.80" x2="218.40" y2="192.40" stroke="#9a9a9a" stroke-width="0.8" />
<line x1="231.35" y1="235.90" x2="231.35" y2="234.10" stroke="#9a9a9a" stroke-width="0.8" />
<line x1="231.35" y1="188.80" x2="231.35" y2="190.60" stroke="#9a9a9a" stroke-width="0.8" />
<line x1="244.30" y1="235.90" x2="244.30" y2="232.30" stroke="#9a9a9a" stroke-width="0.8" />
<line x1="244.30" y1="188.80" x2="244.30" y2="192.40" stroke="#9a9a9a" stroke-width="0.8" />
<line x1="257.25" y1="235.90" x2="257.25" y2="234.10" stroke="#9a9a9a" stroke-width="0.8" />
<line x1="257.25" y1="188.80" x2="257.25" y2="190.60" stroke="#9a9a9a" stroke-width="0.8" />
<line x1="270.20" y1="235.90" x2="270.20" y2="232.30" stroke="#9a9a9a" stroke-width="0.8" />
<line x1="270.20" y1="188.80" x2="270.20" y2="192.40" stroke="#9a9a9a" stroke-width="0.8" />
<line x1="283.15" y1="235.90" x2="283.15" y2="234.10" stroke="#9a9a9a" stroke-width="0.8" />
<line x1="283.15" y1="188.80" x2="283.15" y2="190.60" stroke="#9a9a9a" stroke-width="0.8" />
<line x1="296.10" y1="235.90" x2="296.10" y2="232.30" stroke="#9a9a9a" stroke-width="0.8" />
<line x1="296.10" y1="188.80" x2="296.10" y2="192.40" stroke="#9a9a9a" stroke-width="0.8" />
<line x1="309.05" y1="235.90" x2="309.05" y2="234.10" stroke="#9a9a9a" stroke-width="0.8" />
<line x1="309.05" y1="188.80" x2="309.05" y2="190.60" stroke="#9a9a9a" stroke-width="0.8" />
<line x1="322.00" y1="235.90" x2="322.00" y2="232.30" stroke="#9a9a9a" stroke-width="0.8" />
<line x1="322.00" y1="188.80" x2="322.00" y2="192.40" stroke="#9a9a9a" stroke-width="0.8" />
<line x1="334.95" y1="235.90" x2="334.95" y2="234.10" stroke="#9a9a9a" stroke-width="0.8" />
<line x1="334.95" y1="188.80" x2="334.95" y2="190.60" stroke="#9a9a9a" stroke-width="0.8" />
<line x1="347.90" y1="235.90" x2="347.90" y2="232.30" stroke="#9a9a9a" stroke-width="0.8" />
<line x1="347.90" y1="188.80" x2="347.90" y2="192.40" stroke="#9a9a9a" stroke-width="0.8" />
<line x1="218.40" y1="235.90" x2="221.40" y2="235.90" stroke="#9a9a9a" stroke-width="0.8" />
<line x1="360.40" y1="235.90" x2="357.40" y2="235.90" stroke="#9a9a9a" stroke-width="0.8" />
<line x1="218.40" y1="226.48" x2="220.20" y2="226.48" stroke="#9a9a9a" stroke-width="0.8" />
<line x1="360.40" y1="226.48" x2="358.60" y2="226.48" stroke="#9a9a9a" stroke-width="0.8" />
<line x1="218.40" y1="217.06" x2="221.40" y2="217.06" stroke="#9a9a9a" stroke-width="0.8" />
<line x1="360.40" y1="217.06" x2="357.40" y2="217.06" stroke="#9a9a9a" stroke-width="0.8" />
<line x1="218.40" y1="207.64" x2="220.20" y2="207.64" stroke="#9a9a9a" stroke-width="0.8" />
<line x1="360.40" y1="207.64" x2="358.60" y2="207.64" stroke="#9a9a9a" stroke-width="0.8" />
<line x1="218.40" y1="198.22" x2="221.40" y2="198.22" stroke="#9a9a9a" stroke-width="0.8" />
<line x1="360.40" y1="198.22" x2="357.40" y2="198.22" stroke="#9a9a9a" stroke-width="0.8" />
<line x1="218.40" y1="188.80" x2="220.20" y2="188.80" stroke="#9a9a9a" stroke-width="0.8" />
<line x1="360.40" y1="188.80" x2="358.60" y2="188.80" stroke="#9a9a9a" stroke-width="0.8" />
<text x="217.00" y="201.65" font-size="9.9" text-anchor="end" >0.4</text>
<text x="217.00" y="220.15" font-size="9.9" text-anchor="end" >0.2</text>
<text x="217.00" y="239.45" font-size="9.9" text-anchor="end" >0</text>
<text x="220.40" y="200.70" font-size="10.4" text-anchor="start" >(f)</text>
<polyline points="240.55,208.40 279.40,212.90 292.35,213.40 305.30,212.90 318.25,213.20 331.20,209.70 357.10,213.50" fill="none" stroke="#222" stroke-width="0.7"/>
<line x1="240.55" y1="203.30" x2="240.55" y2="213.00" stroke="#333" stroke-width="0.6" />
<line x1="238.25" y1="203.30" x2="242.85" y2="203.30" stroke="#333" stroke-width="0.6" />
<line x1="238.25" y1="213.00" x2="242.85" y2="213.00" stroke="#333" stroke-width="0.6" />
<line x1="279.40" y1="201.50" x2="279.40" y2="224.40" stroke="#333" stroke-width="0.6" />
<line x1="277.10" y1="201.50" x2="281.70" y2="201.50" stroke="#333" stroke-width="0.6" />
<line x1="277.10" y1="224.40" x2="281.70" y2="224.40" stroke="#333" stroke-width="0.6" />
<line x1="292.35" y1="205.30" x2="292.35" y2="220.60" stroke="#333" stroke-width="0.6" />
<line x1="290.05" y1="205.30" x2="294.65" y2="205.30" stroke="#333" stroke-width="0.6" />
<line x1="290.05" y1="220.60" x2="294.65" y2="220.60" stroke="#333" stroke-width="0.6" />
<line x1="305.30" y1="203.30" x2="305.30" y2="221.80" stroke="#333" stroke-width="0.6" />
<line x1="303.00" y1="203.30" x2="307.60" y2="203.30" stroke="#333" stroke-width="0.6" />
<line x1="303.00" y1="221.80" x2="307.60" y2="221.80" stroke="#333" stroke-width="0.6" />
<line x1="318.25" y1="204.00" x2="318.25" y2="221.80" stroke="#333" stroke-width="0.6" />
<line x1="315.95" y1="204.00" x2="320.55" y2="204.00" stroke="#333" stroke-width="0.6" />
<line x1="315.95" y1="221.80" x2="320.55" y2="221.80" stroke="#333" stroke-width="0.6" />
<line x1="331.20" y1="200.80" x2="331.20" y2="218.00" stroke="#333" stroke-width="0.6" />
<line x1="328.90" y1="200.80" x2="333.50" y2="200.80" stroke="#333" stroke-width="0.6" />
<line x1="328.90" y1="218.00" x2="333.50" y2="218.00" stroke="#333" stroke-width="0.6" />
<line x1="357.10" y1="205.30" x2="357.10" y2="221.80" stroke="#333" stroke-width="0.6" />
<line x1="354.80" y1="205.30" x2="359.40" y2="205.30" stroke="#333" stroke-width="0.6" />
<line x1="354.80" y1="221.80" x2="359.40" y2="221.80" stroke="#333" stroke-width="0.6" />
<circle cx="240.55" cy="208.40" r="2.4" fill="#000" stroke="none" stroke-width="0.6"/>
<circle cx="279.40" cy="212.90" r="2.4" fill="#000" stroke="none" stroke-width="0.6"/>
<circle cx="292.35" cy="213.40" r="2.4" fill="#000" stroke="none" stroke-width="0.6"/>
<circle cx="305.30" cy="212.90" r="2.4" fill="#000" stroke="none" stroke-width="0.6"/>
<circle cx="318.25" cy="213.20" r="2.4" fill="#000" stroke="none" stroke-width="0.6"/>
<circle cx="331.20" cy="209.70" r="2.4" fill="#000" stroke="none" stroke-width="0.6"/>
<circle cx="357.10" cy="213.50" r="2.4" fill="#000" stroke="none" stroke-width="0.6"/>
<line x1="325.20" y1="196.80" x2="325.20" y2="206.50" stroke="#ff0000" stroke-width="1" />
<polygon points="323.55,204.90 326.85,204.90 325.20,211.50" fill="#ff0000"/>
<text transform="translate(187.80,230.60) rotate(-90)" font-size="9.6" >2W</text>
<text transform="translate(190.00,214.80) rotate(-90)" font-size="7.6" >IXS</text>
<text transform="translate(198.40,241.70) rotate(-90)" font-size="9.5" >[ps-1</text>
<text transform="translate(198.80,214.20) rotate(-90)" font-size="10.2" >nm</text>
<text transform="translate(196.70,198.90) rotate(-90)" font-size="7.6" >2</text>
<text transform="translate(198.40,192.60) rotate(-90)" font-size="9.5" >]</text>
<rect x="218.40" y="248.40" width="142.00" height="47.20" fill="none" stroke="#9a9a9a" stroke-width="1"/>
<line x1="218.40" y1="295.60" x2="218.40" y2="292.00" stroke="#9a9a9a" stroke-width="0.8" />
<line x1="218.40" y1="248.40" x2="218.40" y2="252.00" stroke="#9a9a9a" stroke-width="0.8" />
<line x1="231.35" y1="295.60" x2="231.35" y2="293.80" stroke="#9a9a9a" stroke-width="0.8" />
<line x1="231.35" y1="248.40" x2="231.35" y2="250.20" stroke="#9a9a9a" stroke-width="0.8" />
<line x1="244.30" y1="295.60" x2="244.30" y2="292.00" stroke="#9a9a9a" stroke-width="0.8" />
<line x1="244.30" y1="248.40" x2="244.30" y2="252.00" stroke="#9a9a9a" stroke-width="0.8" />
<line x1="257.25" y1="295.60" x2="257.25" y2="293.80" stroke="#9a9a9a" stroke-width="0.8" />
<line x1="257.25" y1="248.40" x2="257.25" y2="250.20" stroke="#9a9a9a" stroke-width="0.8" />
<line x1="270.20" y1="295.60" x2="270.20" y2="292.00" stroke="#9a9a9a" stroke-width="0.8" />
<line x1="270.20" y1="248.40" x2="270.20" y2="252.00" stroke="#9a9a9a" stroke-width="0.8" />
<line x1="283.15" y1="295.60" x2="283.15" y2="293.80" stroke="#9a9a9a" stroke-width="0.8" />
<line x1="283.15" y1="248.40" x2="283.15" y2="250.20" stroke="#9a9a9a" stroke-width="0.8" />
<line x1="296.10" y1="295.60" x2="296.10" y2="292.00" stroke="#9a9a9a" stroke-width="0.8" />
<line x1="296.10" y1="248.40" x2="296.10" y2="252.00" stroke="#9a9a9a" stroke-width="0.8" />
<line x1="309.05" y1="295.60" x2="309.05" y2="293.80" stroke="#9a9a9a" stroke-width="0.8" />
<line x1="309.05" y1="248.40" x2="309.05" y2="250.20" stroke="#9a9a9a" stroke-width="0.8" />
<line x1="322.00" y1="295.60" x2="322.00" y2="292.00" stroke="#9a9a9a" stroke-width="0.8" />
<line x1="322.00" y1="248.40" x2="322.00" y2="252.00" stroke="#9a9a9a" stroke-width="0.8" />
<line x1="334.95" y1="295.60" x2="334.95" y2="293.80" stroke="#9a9a9a" stroke-width="0.8" />
<line x1="334.95" y1="248.40" x2="334.95" y2="250.20" stroke="#9a9a9a" stroke-width="0.8" />
<line x1="347.90" y1="295.60" x2="347.90" y2="292.00" stroke="#9a9a9a" stroke-width="0.8" />
<line x1="347.90" y1="248.40" x2="347.90" y2="252.00" stroke="#9a9a9a" stroke-width="0.8" />
<line x1="218.40" y1="295.60" x2="221.40" y2="295.60" stroke="#9a9a9a" stroke-width="0.8" />
<line x1="360.40" y1="295.60" x2="357.40" y2="295.60" stroke="#9a9a9a" stroke-width="0.8" />
<line x1="218.40" y1="283.80" x2="220.20" y2="283.80" stroke="#9a9a9a" stroke-width="0.8" />
<line x1="360.40" y1="283.80" x2="358.60" y2="283.80" stroke="#9a9a9a" stroke-width="0.8" />
<line x1="218.40" y1="272.00" x2="221.40" y2="272.00" stroke="#9a9a9a" stroke-width="0.8" />
<line x1="360.40" y1="272.00" x2="357.40" y2="272.00" stroke="#9a9a9a" stroke-width="0.8" />
<line x1="218.40" y1="260.20" x2="220.20" y2="260.20" stroke="#9a9a9a" stroke-width="0.8" />
<line x1="360.40" y1="260.20" x2="358.60" y2="260.20" stroke="#9a9a9a" stroke-width="0.8" />
<line x1="218.40" y1="248.40" x2="221.40" y2="248.40" stroke="#9a9a9a" stroke-width="0.8" />
<line x1="360.40" y1="248.40" x2="357.40" y2="248.40" stroke="#9a9a9a" stroke-width="0.8" />
<text x="217.00" y="251.45" font-size="9.9" text-anchor="end" >2</text>
<text x="217.00" y="275.30" font-size="9.9" text-anchor="end" >1</text>
<text x="217.00" y="298.05" font-size="9.9" text-anchor="end" >0</text>
<text x="221.10" y="261.60" font-size="10.4" text-anchor="start" >(g)</text>
<polyline points="240.55,260.30 305.30,270.90 331.20,274.10 357.10,281.70" fill="none" stroke="#222" stroke-width="0.7"/>
<polyline points="240.55,291.80 279.40,291.40 292.35,291.30 305.30,290.90 318.25,290.40 331.20,284.30 357.10,281.70" fill="none" stroke="#222" stroke-width="0.7"/>
<line x1="240.55" y1="248.40" x2="240.55" y2="291.80" stroke="#333" stroke-width="0.6" />
<line x1="305.30" y1="251.10" x2="305.30" y2="291.30" stroke="#333" stroke-width="0.6" />
<line x1="303.00" y1="251.10" x2="307.60" y2="251.10" stroke="#333" stroke-width="0.6" />
<line x1="303.00" y1="291.30" x2="307.60" y2="291.30" stroke="#333" stroke-width="0.6" />
<line x1="331.20" y1="261.30" x2="331.20" y2="290.40" stroke="#333" stroke-width="0.6" />
<line x1="328.90" y1="261.30" x2="333.50" y2="261.30" stroke="#333" stroke-width="0.6" />
<line x1="328.90" y1="290.40" x2="333.50" y2="290.40" stroke="#333" stroke-width="0.6" />
<line x1="357.10" y1="268.50" x2="357.10" y2="295.00" stroke="#333" stroke-width="0.6" />
<line x1="354.80" y1="268.50" x2="359.40" y2="268.50" stroke="#333" stroke-width="0.6" />
<line x1="354.80" y1="295.00" x2="359.40" y2="295.00" stroke="#333" stroke-width="0.6" />
<line x1="331.20" y1="279.30" x2="331.20" y2="289.40" stroke="#333" stroke-width="0.6" />
<line x1="329.20" y1="279.30" x2="333.20" y2="279.30" stroke="#333" stroke-width="0.6" />
<line x1="329.20" y1="289.40" x2="333.20" y2="289.40" stroke="#333" stroke-width="0.6" />
<line x1="357.10" y1="272.00" x2="357.10" y2="293.00" stroke="#333" stroke-width="0.6" />
<line x1="355.10" y1="272.00" x2="359.10" y2="272.00" stroke="#333" stroke-width="0.6" />
<line x1="355.10" y1="293.00" x2="359.10" y2="293.00" stroke="#333" stroke-width="0.6" />
<rect x="238.45" y="289.70" width="4.2" height="4.2" fill="#fff" stroke="#444" stroke-width="0.7"/>
<rect x="277.30" y="289.30" width="4.2" height="4.2" fill="#fff" stroke="#444" stroke-width="0.7"/>
<rect x="290.25" y="289.20" width="4.2" height="4.2" fill="#fff" stroke="#444" stroke-width="0.7"/>
<rect x="303.20" y="288.80" width="4.2" height="4.2" fill="#fff" stroke="#444" stroke-width="0.7"/>
<rect x="316.15" y="288.30" width="4.2" height="4.2" fill="#fff" stroke="#444" stroke-width="0.7"/>
<rect x="329.10" y="282.20" width="4.2" height="4.2" fill="#fff" stroke="#444" stroke-width="0.7"/>
<rect x="355.00" y="279.60" width="4.2" height="4.2" fill="#fff" stroke="#444" stroke-width="0.7"/>
<circle cx="240.55" cy="260.30" r="1.9" fill="#000" stroke="none" stroke-width="0.6"/>
<circle cx="305.30" cy="270.90" r="1.9" fill="#000" stroke="none" stroke-width="0.6"/>
<circle cx="331.20" cy="274.10" r="1.9" fill="#000" stroke="none" stroke-width="0.6"/>
<circle cx="357.10" cy="281.70" r="1.9" fill="#000" stroke="none" stroke-width="0.6"/>
<line x1="325.35" y1="250.10" x2="325.35" y2="261.30" stroke="#ff0000" stroke-width="1" />
<polygon points="323.70,259.70 327.00,259.70 325.35,266.30" fill="#ff0000"/>
<text transform="translate(193.30,293.60) rotate(-90)" font-size="9.8" >relaxation</text>
<text transform="translate(203.10,293.60) rotate(-90)" font-size="9.8" >time [ps]</text>
<text x="218.20" y="304.90" font-size="9.9" text-anchor="middle" >600</text>
<text x="243.90" y="304.90" font-size="9.9" text-anchor="middle" >800</text>
<text x="269.60" y="304.90" font-size="9.9" text-anchor="middle" >1000</text>
<text x="295.30" y="304.90" font-size="9.9" text-anchor="middle" >1200</text>
<text x="321.00" y="304.90" font-size="9.9" text-anchor="middle" >1400</text>
<text x="346.70" y="304.90" font-size="9.9" text-anchor="middle" >1600</text>
<text x="287.90" y="316.40" font-size="10" text-anchor="middle" >T [K]</text>
</g>
</svg>
</body></html>
